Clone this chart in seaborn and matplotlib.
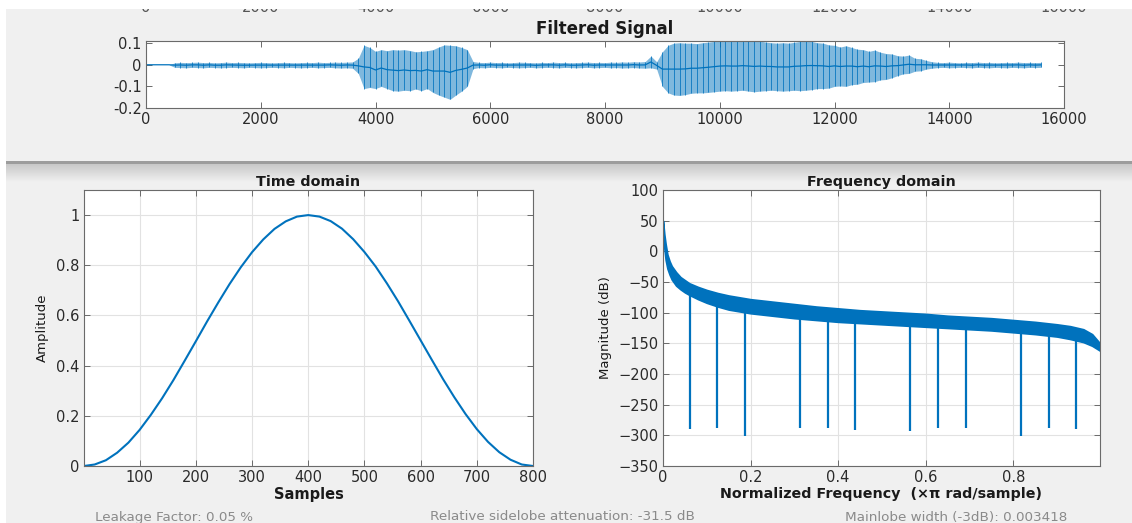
import numpy as np
import matplotlib
matplotlib.use("Agg")
import matplotlib.pyplot as plt
from matplotlib.patches import Rectangle
import seaborn as sns

# ---------------------------------------------------------------- data
# filtered speech signal: amplitude envelope sampled every 100 samples
sig_step = 100
sig_upper = [
    0.000, 0.000, 0.000, 0.000, 0.000, 0.009, 0.011, 0.010, 0.011, 0.012,
    0.010, 0.011, 0.009, 0.010, 0.012, 0.010, 0.011, 0.010, 0.009, 0.010,
    0.011, 0.010, 0.009, 0.010, 0.011, 0.010, 0.009, 0.010, 0.011, 0.010,
    0.012, 0.010, 0.011, 0.012, 0.011, 0.012, 0.013, 0.030, 0.090, 0.080,
    0.062, 0.070, 0.065, 0.070, 0.068, 0.070, 0.066, 0.060, 0.062, 0.065,
    0.070, 0.082, 0.092, 0.090, 0.088, 0.080, 0.070, 0.015, 0.011, 0.010,
    0.012, 0.010, 0.011, 0.009, 0.010, 0.012, 0.011, 0.010, 0.009, 0.011,
    0.010, 0.012, 0.010, 0.011, 0.009, 0.010, 0.011, 0.012, 0.010, 0.011,
    0.010, 0.012, 0.011, 0.013, 0.012, 0.014, 0.013, 0.015, 0.040, 0.014,
    0.060, 0.090, 0.100, 0.102, 0.100, 0.100, 0.098, 0.102, 0.105, 0.108,
    0.110, 0.110, 0.110, 0.108, 0.110, 0.110, 0.110, 0.110, 0.105, 0.102,
    0.100, 0.102, 0.100, 0.104, 0.108, 0.110, 0.108, 0.102, 0.100, 0.092,
    0.090, 0.082, 0.088, 0.080, 0.072, 0.070, 0.062, 0.068, 0.058, 0.052,
    0.050, 0.042, 0.040, 0.045, 0.030, 0.028, 0.020, 0.014, 0.011, 0.010,
    0.012, 0.010, 0.009, 0.011, 0.010, 0.012, 0.010, 0.011, 0.009, 0.010,
    0.011, 0.010, 0.012, 0.010, 0.011, 0.010, 0.011,
]
sig_lower = [
    0.000, 0.000, 0.000, 0.000, 0.000, -0.012, -0.013, -0.014, -0.012, -0.013,
    -0.014, -0.012, -0.013, -0.014, -0.013, -0.012, -0.013, -0.014, -0.012, -0.013,
    -0.014, -0.013, -0.012, -0.013, -0.014, -0.012, -0.013, -0.014, -0.013, -0.012,
    -0.014, -0.013, -0.012, -0.014, -0.015, -0.014, -0.016, -0.040, -0.110, -0.105,
    -0.110, -0.100, -0.110, -0.120, -0.122, -0.118, -0.120, -0.112, -0.120, -0.110,
    -0.128, -0.140, -0.150, -0.160, -0.140, -0.122, -0.100, -0.018, -0.013, -0.014,
    -0.012, -0.013, -0.014, -0.012, -0.013, -0.014, -0.013, -0.012, -0.014, -0.013,
    -0.012, -0.013, -0.014, -0.012, -0.013, -0.014, -0.013, -0.012, -0.014, -0.013,
    -0.012, -0.014, -0.013, -0.015, -0.014, -0.013, -0.015, -0.016, -0.014, -0.020,
    -0.100, -0.130, -0.140, -0.142, -0.138, -0.132, -0.130, -0.130, -0.128, -0.125,
    -0.122, -0.120, -0.122, -0.120, -0.118, -0.122, -0.125, -0.122, -0.120, -0.118,
    -0.120, -0.122, -0.120, -0.118, -0.120, -0.118, -0.115, -0.110, -0.110, -0.108,
    -0.100, -0.098, -0.100, -0.092, -0.090, -0.082, -0.080, -0.078, -0.070, -0.068,
    -0.060, -0.050, -0.042, -0.040, -0.030, -0.028, -0.020, -0.016, -0.013, -0.012,
    -0.014, -0.013, -0.012, -0.013, -0.014, -0.012, -0.013, -0.014, -0.012, -0.013,
    -0.014, -0.012, -0.013, -0.014, -0.012, -0.013, -0.012,
]
sig_xticks = [0, 2000, 4000, 6000, 8000, 10000, 12000, 14000, 16000]
sig_yticks = [-0.2, -0.1, 0, 0.1]
sig_yticklabels = ["-0.2", "-0.1", "0", "0.1"]

# window shape in the time domain (800-point Hann), every 20 samples
win_n = [1, 20, 40, 60, 80, 100, 120, 140, 160, 180, 200, 220, 240, 260,
         280, 300, 320, 340, 360, 380, 400, 420, 440, 460, 480, 500, 520,
         540, 560, 580, 600, 620, 640, 660, 680, 700, 720, 740, 760, 780,
         800]
win_amp = [0.000, 0.006, 0.023, 0.053, 0.093, 0.144, 0.204, 0.270, 0.342,
           0.419, 0.497, 0.576, 0.652, 0.725, 0.792, 0.852, 0.903, 0.945,
           0.975, 0.994, 1.000, 0.994, 0.976, 0.946, 0.904, 0.853, 0.795,
           0.728, 0.656, 0.579, 0.501, 0.423, 0.346, 0.274, 0.207, 0.147,
           0.096, 0.055, 0.025, 0.006, 0.000]
win_xticks = [100, 200, 300, 400, 500, 600, 700, 800]
win_yticks = [0, 0.2, 0.4, 0.6, 0.8, 1]
win_yticklabels = ["0", "0.2", "0.4", "0.6", "0.8", "1"]

# window spectrum: top and bottom of the ripple band, plus the deep nulls
spec_f = [0.0, 0.003, 0.006, 0.01, 0.015, 0.02, 0.03, 0.04, 0.05, 0.06,
          0.08, 0.1, 0.125, 0.15, 0.175, 0.2, 0.25, 0.3, 0.35, 0.4, 0.45,
          0.5, 0.55, 0.6, 0.65, 0.7, 0.75, 0.8, 0.85, 0.9, 0.93, 0.96,
          0.98, 0.998]
spec_top = [50, 28, 12, -5, -16, -24, -34, -42, -47, -52, -58, -63, -68,
            -72, -75, -78, -82, -86, -90, -93, -96, -98, -100, -102, -105,
            -107, -109, -112, -115, -119, -122, -127, -135, -150]
spec_bottom = [42, 5, -14, -28, -38, -46, -56, -62, -67, -71, -78, -84,
               -90, -95, -98, -101, -105, -109, -112, -115, -117, -119,
               -121, -123, -125, -127, -129, -132, -135, -139, -143, -148,
               -154, -162]
null_f = [0.061, 0.123, 0.188, 0.313, 0.376, 0.438, 0.565, 0.628, 0.691,
          0.818, 0.881, 0.944]
null_db = [-289, -288, -301, -288, -288, -292, -293, -288, -288, -301,
           -288, -290]
spec_xticks = [0, 0.2, 0.4, 0.6, 0.8]
spec_xticklabels = ["0", "0.2", "0.4", "0.6", "0.8"]
spec_yticks = [-350, -300, -250, -200, -150, -100, -50, 0, 50, 100]

footer = ["Leakage Factor: 0.05 %",
          "Relative sidelobe attenuation: -31.5 dB",
          "Mainlobe width (-3dB): 0.003418"]

# ---------------------------------------------------------------- style
sns.set_theme(style="ticks")
plt.rcParams["font.family"] = ["DejaVu Sans"]
BLUE = "#0072BD"
BG = "#f0f0f0"
TXT = "#2a2a2a"
W, H = 1132, 523

fig = plt.figure(figsize=(W / 100, H / 100), dpi=100, facecolor=BG)


def box(l, t, r, b):
    return [l / W, 1 - b / H, (r - l) / W, (b - t) / H]


def style_axes(ax, grid):
    ax.set_facecolor("white")
    for s in ax.spines.values():
        s.set_color("#6a6a6a")
        s.set_linewidth(0.8)
    ax.tick_params(direction="in", length=4, width=0.7, top=True, right=True,
                   colors="#6a6a6a", labelcolor=TXT, labelsize=10.5, pad=3)
    if grid:
        ax.grid(True, color="#e2e2e2", linewidth=0.8)
        ax.set_axisbelow(True)


# window frame pieces
fig.patches.append(Rectangle((0, 1 - 9 / H), 1, 9 / H, transform=fig.transFigure,
                             facecolor="white", edgecolor="none", zorder=5))
fig.patches.append(Rectangle((0, 0), 6 / W, 1, transform=fig.transFigure,
                             facecolor="white", edgecolor="none", zorder=-2))
fig.patches.append(Rectangle((6 / W, 1 - 164 / H), 1, 3 / H, transform=fig.transFigure,
                             facecolor="#9c9c9c", edgecolor="none", zorder=-1))
shade = fig.add_axes(box(6, 164, W, 182), zorder=-3)
shade.imshow(np.linspace(0, 1, 32).reshape(-1, 1), aspect="auto",
             cmap=matplotlib.colors.LinearSegmentedColormap.from_list(
                 "shade", ["#c8c8c8", BG]), extent=(0, 1, 0, 1))
shade.set_axis_off()

# axis labels of a partly hidden panel above the filtered signal
for v in sig_xticks:
    fig.text((146 + v / 16000 * 918) / W, 1 - 7 / H, str(v), ha="center",
             va="center", fontsize=10.5, color="#555555", zorder=4)

# ---------------------------------------------------------------- filtered signal
ax0 = fig.add_axes(box(146, 41, 1064, 108))
style_axes(ax0, grid=False)
sig_x = np.arange(len(sig_upper)) * sig_step
hi = np.array(sig_upper)
lo = np.array(sig_lower)
ax0.fill_between(sig_x, lo, hi, color=BLUE, alpha=0.5, linewidth=0)
ax0.vlines(sig_x, lo, hi, color=BLUE, linewidth=0.7, alpha=0.8)
sns.lineplot(x=sig_x, y=(hi + lo) / 2, ax=ax0, color=BLUE, linewidth=0.9)
ax0.set_xlim(0, 16000)
ax0.set_ylim(-0.2, 0.11)
ax0.set_xticks(sig_xticks)
ax0.set_yticks(sig_yticks)
ax0.set_yticklabels(sig_yticklabels)
ax0.set_xlabel("")
ax0.set_ylabel("")
ax0.set_title("Filtered Signal", fontsize=12, fontweight="bold", color="#1a1a1a", pad=5)

# ---------------------------------------------------------------- time domain
ax1 = fig.add_axes(box(84, 190, 533, 466))
style_axes(ax1, grid=True)
sns.lineplot(x=win_n, y=win_amp, ax=ax1, color=BLUE, linewidth=1.5)
ax1.set_xlim(1, 800)
ax1.set_ylim(0, 1.1)
ax1.set_xticks(win_xticks)
ax1.set_yticks(win_yticks)
ax1.set_yticklabels(win_yticklabels)
ax1.set_title("Time domain", fontsize=10.3, fontweight="bold", color="#1a1a1a", pad=3)
ax1.set_xlabel("Samples", fontsize=10.5, fontweight="bold", color="#1a1a1a", labelpad=1)
ax1.set_ylabel("Amplitude", fontsize=9.5, color="#1a1a1a", labelpad=5)

# ---------------------------------------------------------------- frequency domain
ax2 = fig.add_axes(box(663, 190, 1100, 466))
style_axes(ax2, grid=True)
ax2.fill_between(spec_f, spec_bottom, spec_top, color=BLUE, linewidth=1.2,
                 edgecolor=BLUE)
ax2.vlines(null_f, null_db, np.interp(null_f, spec_f, spec_bottom),
           color=BLUE, linewidth=1.6)
ax2.set_xlim(0, 0.998)
ax2.set_ylim(-350, 100)
ax2.set_xticks(spec_xticks)
ax2.set_xticklabels(spec_xticklabels)
ax2.set_yticks(spec_yticks)
ax2.set_title("Frequency domain", fontsize=10.3, fontweight="bold", color="#1a1a1a", pad=3)
ax2.set_xlabel("Normalized Frequency  (\u00d7\u03c0 rad/sample)", fontsize=10.3,
               fontweight="bold", color="#1a1a1a", labelpad=1)
ax2.set_ylabel("Magnitude (dB)", fontsize=9.5, color="#1a1a1a", labelpad=5)

# ---------------------------------------------------------------- measurements
for x, s in zip([95, 430, 845], footer):
    fig.text(x / W, 1 - 517 / H, s, ha="left", va="center", fontsize=9.7,
             color="#8a8a8a")

fig.savefig("out.png", dpi=100, facecolor=BG)
